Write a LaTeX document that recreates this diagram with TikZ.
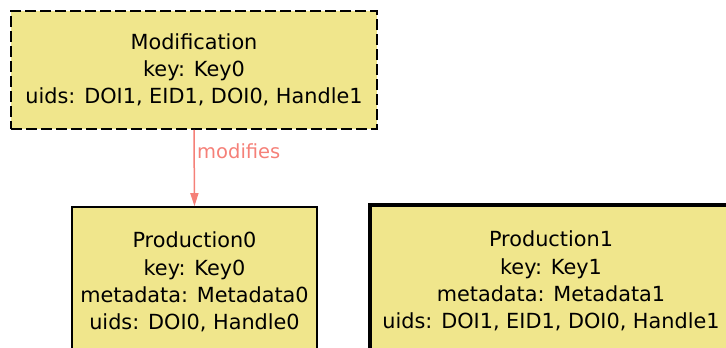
\documentclass[tikz,border=0pt]{standalone}
\usepackage{fontspec}
\setmainfont{DejaVu Sans}
\usetikzlibrary{arrows.meta}
\definecolor{boxfill}{RGB}{240,230,140}
\definecolor{edgecol}{RGB}{245,128,120}
\tikzset{
  entity/.style={draw=black, fill=boxfill, rectangle, align=center,
    font=\fontsize{20.8}{27.2}\selectfont, inner sep=0pt},
  modbox/.style={entity, line width=1.9pt, dash pattern=on 11pt off 4pt},
  prodbox/.style={entity, line width=1.6pt},
  prodbold/.style={entity, line width=3.2pt},
  modedge/.style={draw=edgecol, line width=1.5pt, -{Triangle[length=13pt,width=8pt]}},
  edgelabel/.style={text=edgecol, font=\fontsize{19.5}{22}\selectfont, anchor=west, inner sep=0pt}
}
\begin{document}
\begin{tikzpicture}[x=1pt,y=-1pt]
  \useasboundingbox (0,0) rectangle (726,348);
  \clip (0,0) rectangle (726,348);
  \node[modbox, minimum width=366pt, minimum height=118pt] (mod) at (194,70)
    {Modification\\key: Key0\\uids: DOI1, EID1, DOI0, Handle1};
  \node[prodbox, minimum width=245pt, minimum height=150pt] (p0) at (194.5,282)
    {Production0\\key: Key0\\metadata: Metadata0\\uids: DOI0, Handle0};
  \node[prodbold, minimum width=362pt, minimum height=152pt] (p1) at (551,281)
    {Production1\\key: Key1\\metadata: Metadata1\\uids: DOI1, EID1, DOI0, Handle1};
  \draw[modedge] (mod.south) -- (p0.north);
  \node[edgelabel] (lbl) at (197,151) {modifies};
\end{tikzpicture}
\end{document}
